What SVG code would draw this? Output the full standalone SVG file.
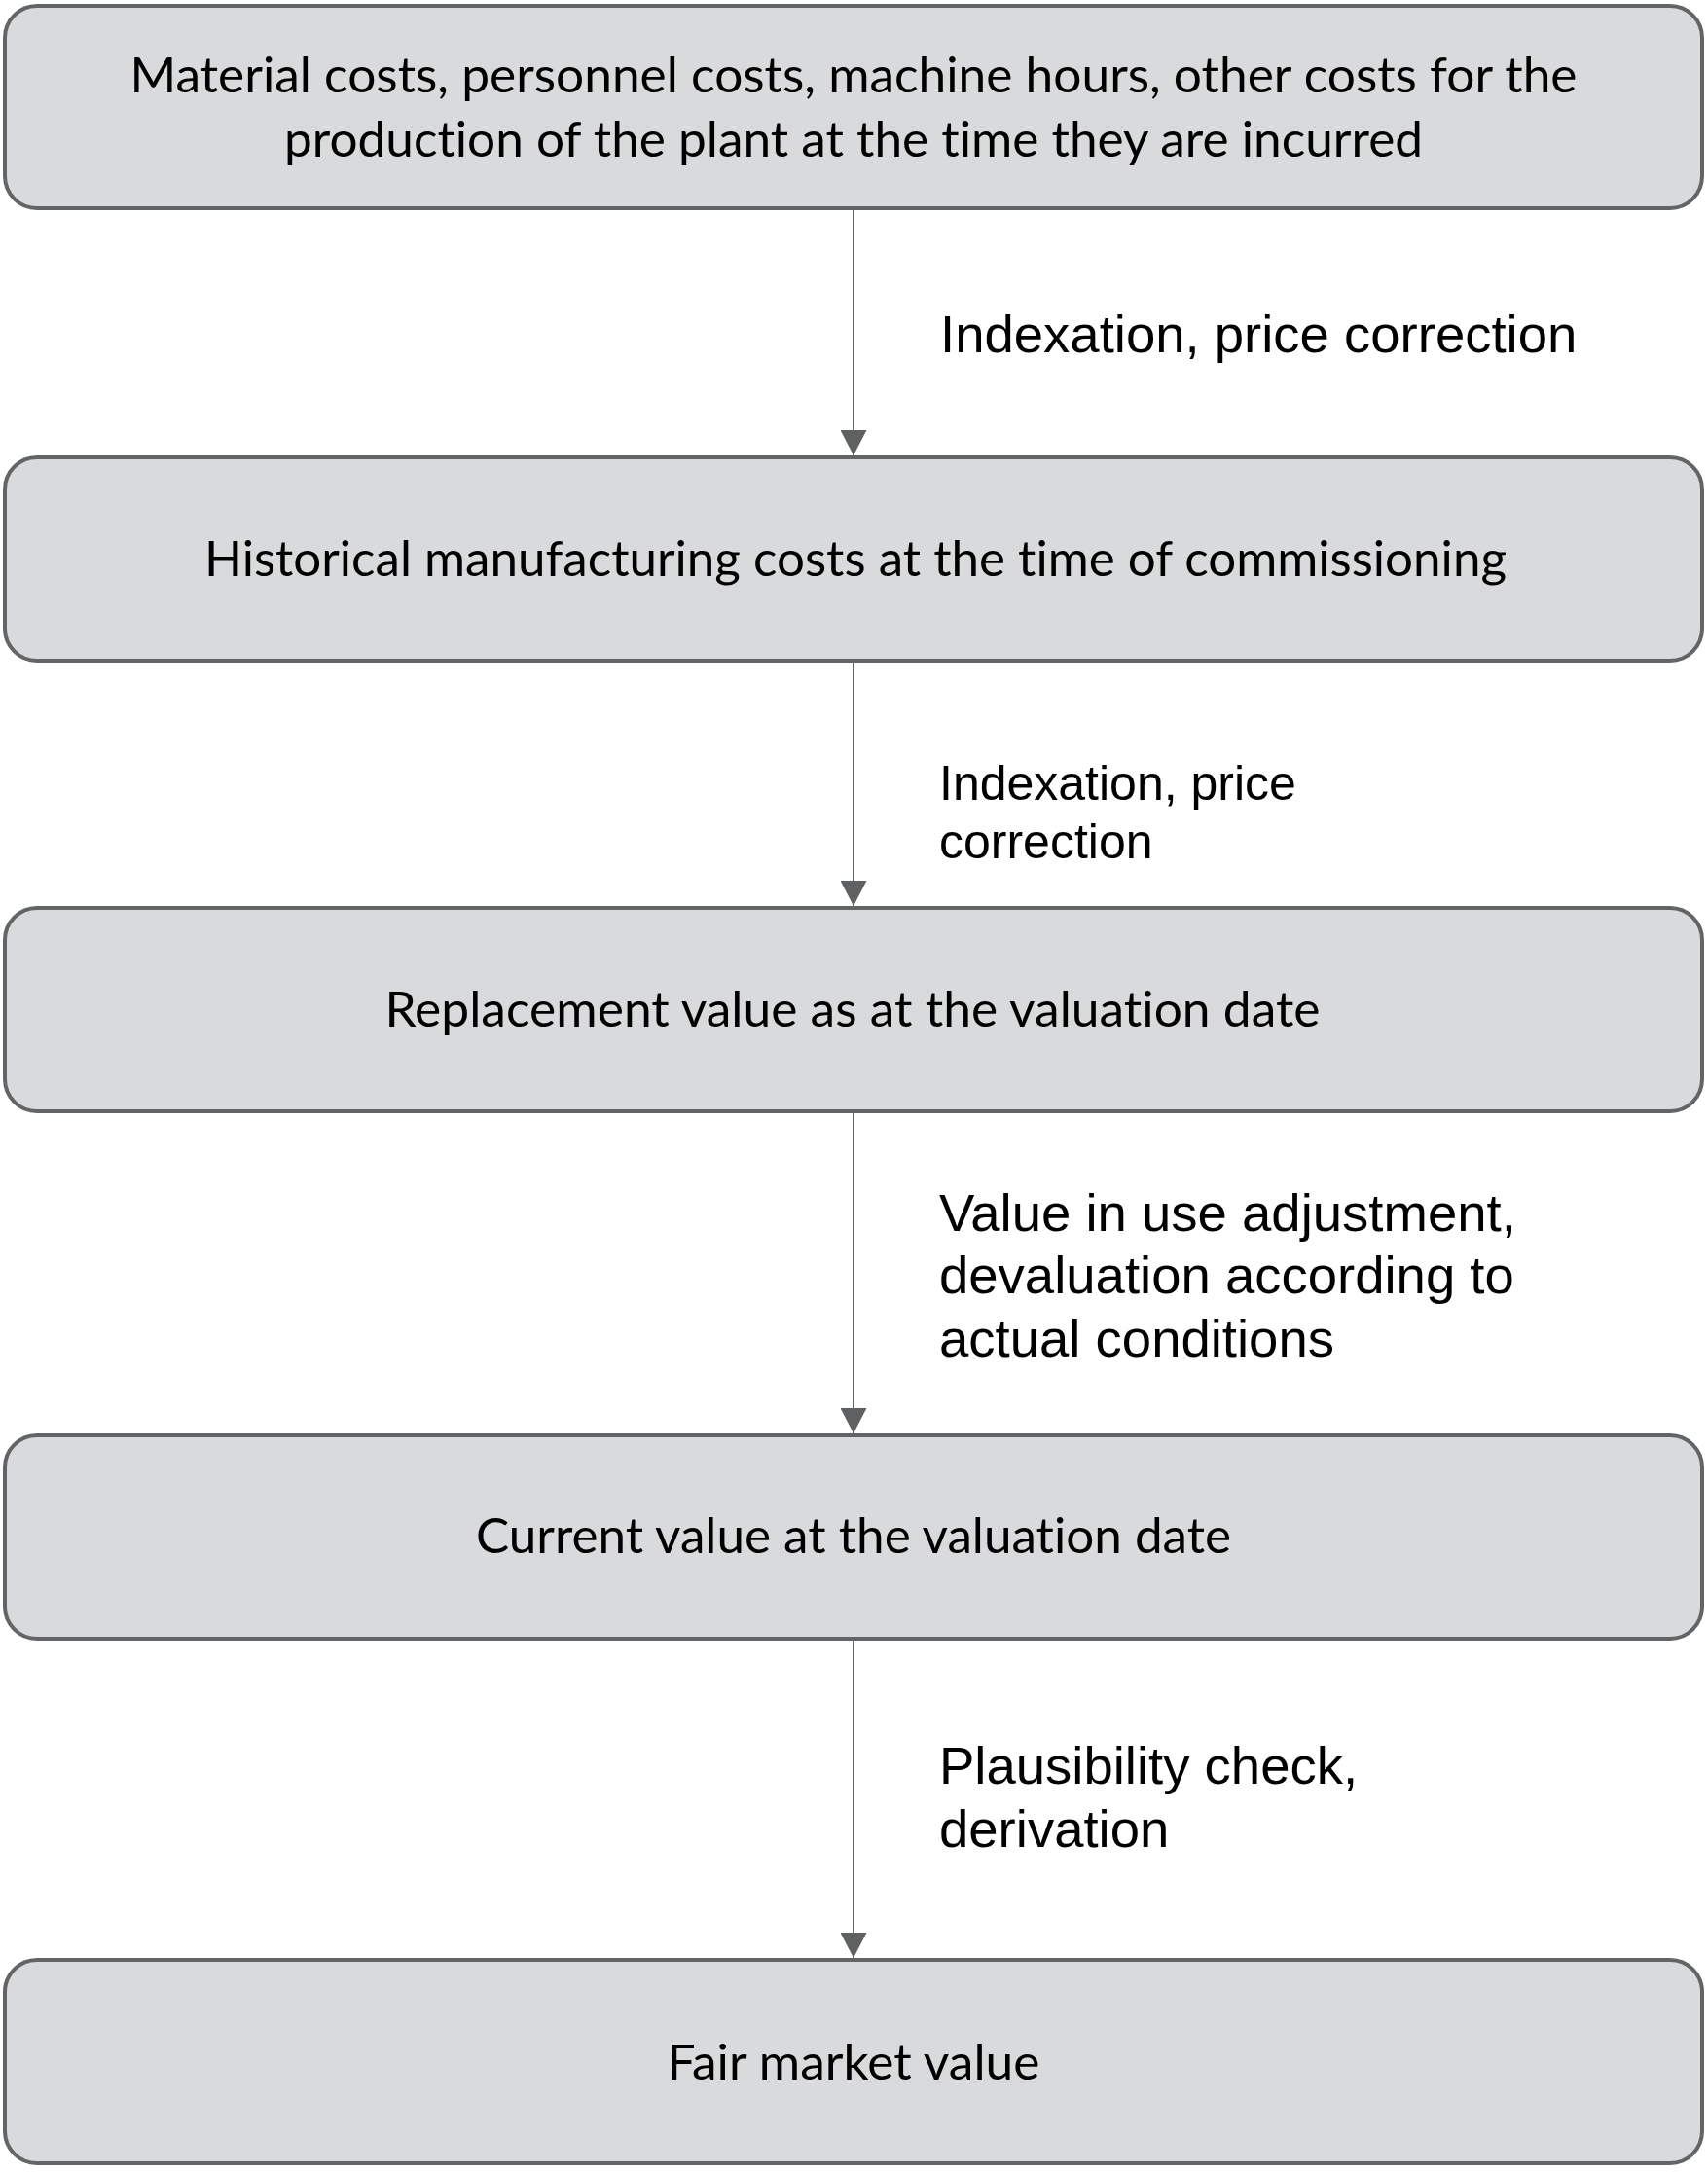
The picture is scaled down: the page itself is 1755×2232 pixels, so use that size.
<svg xmlns="http://www.w3.org/2000/svg" width="1755" height="2232" viewBox="0 0 1755 2232">
<style>
.box{fill:#d9dadc;stroke:#636466;stroke-width:4}
.bt{font-family:Lato,"Open Sans","Liberation Sans",sans-serif;font-size:50px;fill:#000;text-anchor:middle;font-variant-ligatures:none;font-feature-settings:"liga" 0,"clig" 0,"dlig" 0}
.lb{font-family:"Liberation Sans",Arial,sans-serif;font-size:54.5px;fill:#000}
.lbs{font-size:50px}
.conn{stroke:#636466;stroke-width:2;fill:none}
</style>
<defs>
<marker id="arr" markerUnits="userSpaceOnUse" markerWidth="27" markerHeight="27" viewBox="0 0 26 27" refX="26" refY="13.5" orient="auto">
<path d="M0,0 L26,13.5 L0,27 z" fill="#5f6062"/>
</marker>
</defs>
<rect x="0" y="0" width="1755" height="2232" fill="#ffffff"/>
<g id="connectors">
<line class="conn" x1="877" y1="216" x2="877" y2="468" marker-end="url(#arr)"/>
<line class="conn" x1="877" y1="681" x2="877" y2="931" marker-end="url(#arr)"/>
<line class="conn" x1="877" y1="1144" x2="877" y2="1473" marker-end="url(#arr)"/>
<line class="conn" x1="877" y1="1686" x2="877" y2="2012" marker-end="url(#arr)"/>
<text class="lb" x="966" y="362">Indexation, price correction</text>
<text class="lb lbs" x="965" y="822">Indexation, price</text>
<text class="lb lbs" x="965" y="882">correction</text>
<text class="lb" x="965" y="1265">Value in use adjustment,</text>
<text class="lb" x="965" y="1329">devaluation according to</text>
<text class="lb" x="965" y="1394">actual conditions</text>
<text class="lb" x="965" y="1833">Plausibility check,</text>
<text class="lb" x="965" y="1898">derivation</text>
</g>
<g id="node1">
<rect class="box" x="5" y="6" width="1744" height="208" rx="33" ry="33"/>
<text class="bt" x="877" y="95" textLength="1487" lengthAdjust="spacingAndGlyphs">Material costs, personnel costs, machine hours, other costs for the</text>
<text class="bt" x="877" y="161" textLength="1170" lengthAdjust="spacingAndGlyphs">production of the plant at the time they are incurred</text>
</g>
<g id="node2">
<rect class="box" x="5" y="470" width="1744" height="209" rx="33" ry="33"/>
<text class="bt" x="879" y="592" textLength="1338" lengthAdjust="spacingAndGlyphs">Historical manufacturing costs at the time of commissioning</text>
</g>
<g id="node3">
<rect class="box" x="5" y="933" width="1744" height="209" rx="33" ry="33"/>
<text class="bt" x="876" y="1055" textLength="961" lengthAdjust="spacingAndGlyphs">Replacement value as at the valuation date</text>
</g>
<g id="node4">
<rect class="box" x="5" y="1475" width="1744" height="209" rx="33" ry="33"/>
<text class="bt" x="877" y="1596" textLength="776" lengthAdjust="spacingAndGlyphs">Current value at the valuation date</text>
</g>
<g id="node5">
<rect class="box" x="5" y="2014" width="1744" height="209" rx="33" ry="33"/>
<text class="bt" x="877" y="2137" textLength="383" lengthAdjust="spacingAndGlyphs">Fair market value</text>
</g>
</svg>
